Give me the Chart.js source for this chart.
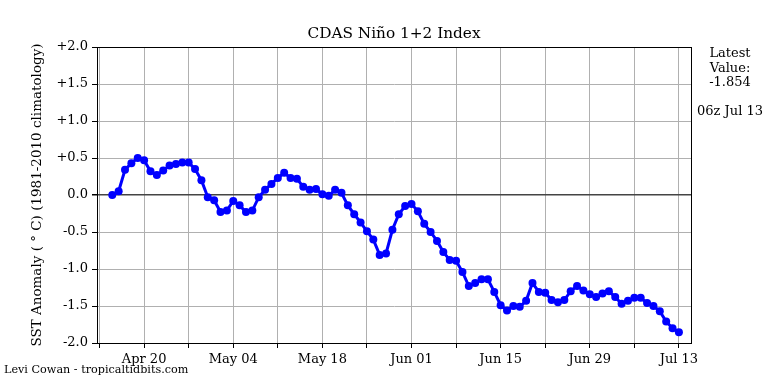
<!DOCTYPE html>
<html>
<head>
<meta charset="utf-8">
<script src="https://cdn.jsdelivr.net/npm/chart.js@4"></script>
<style>
  html, body { margin: 0; padding: 0; background: #fff; }
  #wrap { width: 768px; height: 384px; }
</style>
</head>
<body>
<div id="wrap"><canvas id="myChart" width="768" height="384"></canvas></div>
<script>
// Daily SST anomaly, Apr 15 .. Jul 13
const anomaly = [
  0.00, 0.05, 0.34, 0.43, 0.50, 0.47, 0.32, 0.27, 0.33, 0.40,
  0.42, 0.44, 0.44, 0.35, 0.20, -0.03, -0.07, -0.23, -0.21, -0.08,
  -0.14, -0.23, -0.21, -0.03, 0.07, 0.15, 0.23, 0.30, 0.23, 0.22,
  0.11, 0.07, 0.08, 0.01, -0.01, 0.07, 0.03, -0.14, -0.26, -0.37,
  -0.49, -0.60, -0.81, -0.79, -0.47, -0.26, -0.15, -0.12, -0.22, -0.39,
  -0.50, -0.62, -0.77, -0.88, -0.89, -1.04, -1.23, -1.19, -1.14, -1.14,
  -1.31, -1.49, -1.56, -1.50, -1.51, -1.43, -1.19, -1.31, -1.32, -1.42,
  -1.45, -1.42, -1.30, -1.23, -1.29, -1.34, -1.38, -1.33, -1.30, -1.38,
  -1.47, -1.43, -1.39, -1.39, -1.46, -1.50, -1.57, -1.71, -1.80, -1.854
];

// one tick per week starting Apr 13, labels every other week
const weekLabels = ["", "Apr 20", "", "May 04", "", "May 18", "", "Jun 01",
  "", "Jun 15", "", "Jun 29", "", "Jul 13"];
const yTicks = [-2, -1.5, -1, -0.5, 0, 0.5, 1, 1.5, 2];

const latestText = ["Latest", "Value:", "-1.854", "", "06z Jul 13"];
const titleText = "CDAS Niño 1+2 Index";
const creditText = "Levi Cowan - tropicaltidbits.com";

// day offset from Apr 13 (first value is Apr 15)
const points = anomaly.map((v, i) => ({ x: i + 2, y: v }));

Chart.defaults.font.family = "'DejaVu Serif', serif";
Chart.defaults.color = "#000";

// frame and the texts placed around the axes
const decorations = {
  id: "decorations",
  afterDraw(chart) {
    const { ctx, chartArea: a } = chart;
    ctx.save();
    ctx.strokeStyle = "#000";
    ctx.lineWidth = 1;
    ctx.strokeRect(a.left + 0.5, a.top + 0.5, a.right - a.left, a.bottom - a.top);

    ctx.fillStyle = "#000";
    ctx.textAlign = "center";
    ctx.textBaseline = "alphabetic";
    ctx.font = "15.3px 'DejaVu Serif'";
    ctx.fillText(titleText, (a.left + a.right) / 2, a.top - 9);

    ctx.font = "13px 'DejaVu Serif'";
    latestText.forEach((t, k) => {
      ctx.fillText(t, a.right + 39, a.top + 10 + k * 14.5);
    });

    ctx.textAlign = "left";
    ctx.font = "11.2px 'DejaVu Serif'";
    ctx.fillText(creditText, 4, chart.height - 11);
    ctx.restore();
  }
};

const chrt = document.getElementById("myChart");
new Chart(chrt, {
  type: "line",
  data: {
    datasets: [{
      data: points,
      borderColor: "#0000ff",
      backgroundColor: "#0000ff",
      borderWidth: 3,
      pointRadius: 4,
      pointBorderWidth: 0,
      tension: 0,
    }],
  },
  options: {
    responsive: false,
    animation: false,
    layout: { padding: { top: 47, right: 77, left: 0, bottom: 0 } },
    plugins: {
      legend: { display: false },
      tooltip: { enabled: false },
    },
    scales: {
      x: {
        type: "linear",
        min: -0.4,
        max: 92.9,
        afterBuildTicks: (s) => { s.ticks = weekLabels.map((_, k) => ({ value: k * 7 })); },
        afterFit: (s) => { s.height = 41; },
        ticks: {
          autoSkip: false,
          maxRotation: 0,
          padding: 4,
          font: { size: 13 },
          callback: (v) => weekLabels[Math.round(v / 7)] || "",
        },
        grid: {
          color: "#b0b0b0",
          lineWidth: 1,
          tickColor: "#000",
          tickLength: 5,
        },
        border: { color: "#000", width: 1 },
      },
      y: {
        min: -2,
        max: 2,
        afterBuildTicks: (s) => { s.ticks = yTicks.map((v) => ({ value: v })); },
        afterFit: (s) => { s.width = 97; },
        ticks: {
          padding: 4,
          font: { size: 13 },
          callback: (v) => (v > 0 ? "+" : "") + v.toFixed(1),
        },
        grid: {
          color: (c) => (c.tick && c.tick.value === 0 ? "#444" : "#b0b0b0"),
          lineWidth: (c) => (c.tick && c.tick.value === 0 ? 1.5 : 1),
          tickColor: "#000",
          tickLength: 5,
        },
        border: { color: "#000", width: 1 },
        title: {
          display: true,
          text: "SST Anomaly ( ° C) (1981-2010 climatology)",
          font: { size: 13.5 },
          padding: { top: 29, bottom: 0 },
        },
      },
    },
  },
  plugins: [decorations],
});
</script>
</body>
</html>
